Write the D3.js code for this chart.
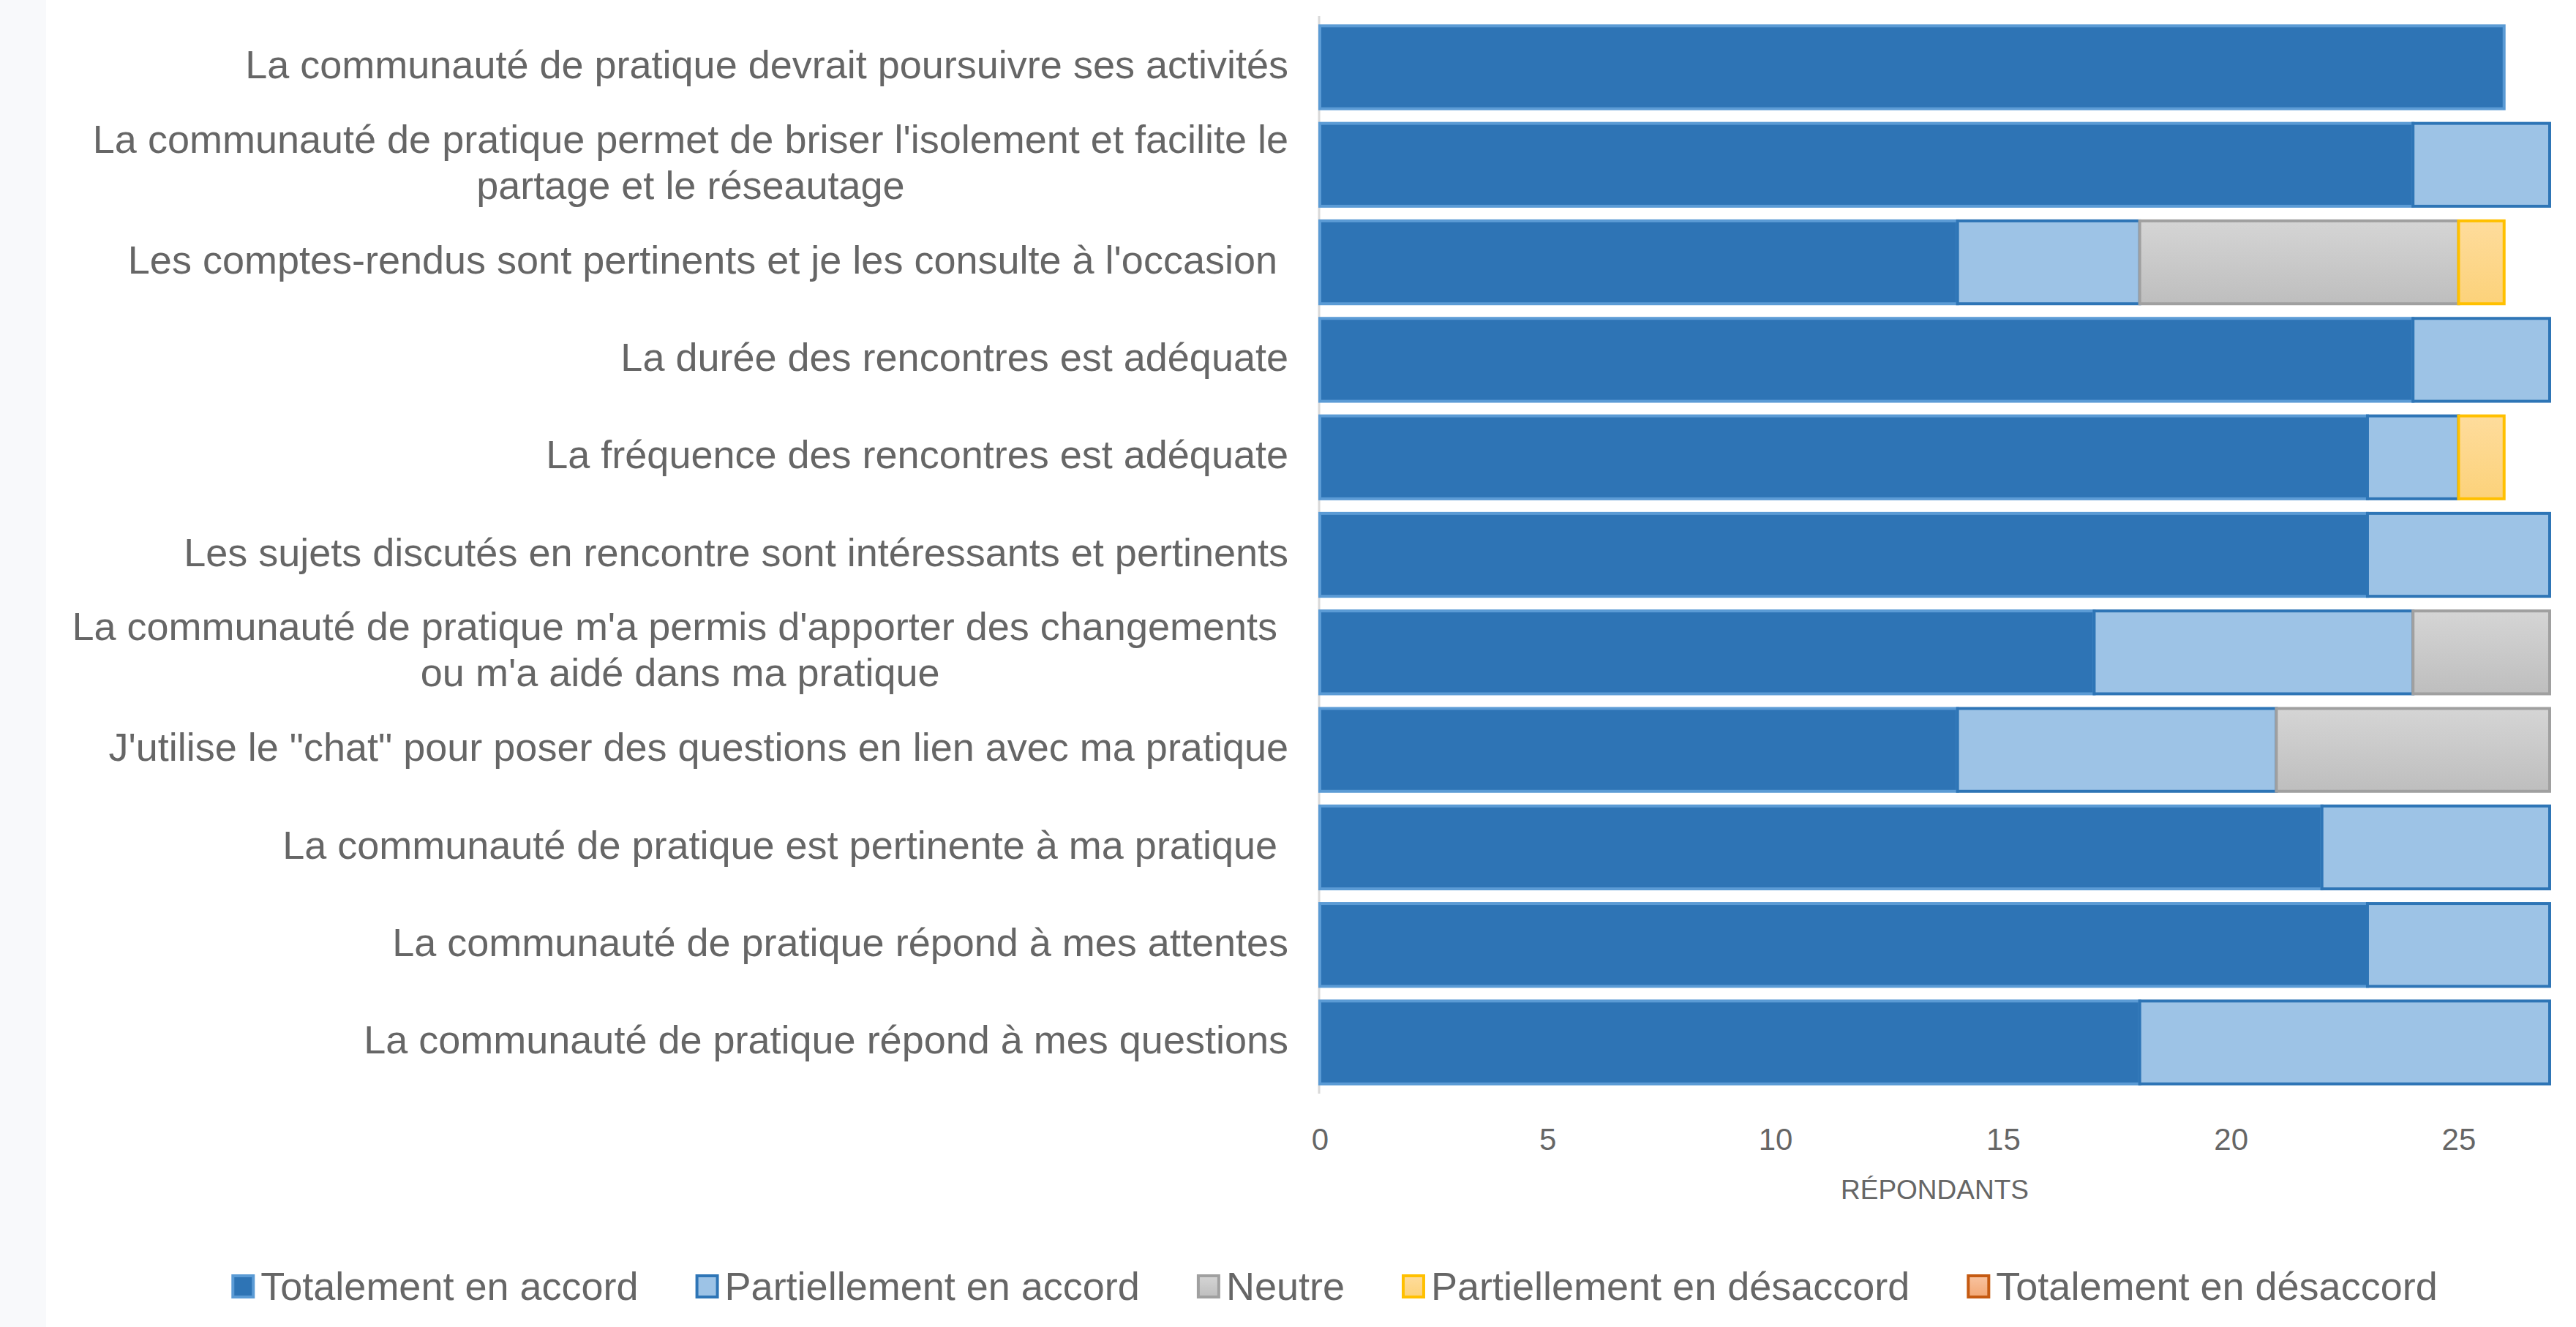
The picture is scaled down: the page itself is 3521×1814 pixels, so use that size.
<!DOCTYPE html>
<html>
<head>
<meta charset="utf-8">
<script src="https://d3js.org/d3.v7.min.js"></script>
<style>
  body { margin: 0; background: #fff; font-family: "Liberation Sans", Arial, sans-serif; }
  text { white-space: pre; }
</style>
</head>
<body>
<script>
// categories (top to bottom), "\n" = line break
var categories = [
  "La communauté de pratique devrait poursuivre ses activités",
  "La communauté de pratique permet de briser l'isolement et facilite le\npartage et le réseautage",
  "Les comptes-rendus sont pertinents et je les consulte à l'occasion ",
  "La durée des rencontres est adéquate",
  "La fréquence des rencontres est adéquate",
  "Les sujets discutés en rencontre sont intéressants et pertinents",
  "La communauté de pratique m'a permis d'apporter des changements \nou m'a aidé dans ma pratique",
  "J'utilise le \"chat\" pour poser des questions en lien avec ma pratique",
  "La communauté de pratique est pertinente à ma pratique ",
  "La communauté de pratique répond à mes attentes",
  "La communauté de pratique répond à mes questions"
];

var seriesNames = ["Totalement en accord", "Partiellement en accord", "Neutre",
                   "Partiellement en désaccord", "Totalement en désaccord"];

var totAccord      = [26, 24, 14, 24, 23, 23, 17, 14, 22, 23, 18];
var partAccord     = [0, 3, 4, 3, 2, 4, 7, 7, 5, 4, 9];
var neutre         = [0, 0, 7, 0, 0, 0, 3, 6, 0, 0, 0];
var partDesaccord  = [0, 0, 1, 0, 1, 0, 0, 0, 0, 0, 0];
var totDesaccord   = [0, 0, 0, 0, 0, 0, 0, 0, 0, 0, 0];

var xTicks = [0, 5, 10, 15, 20, 25];
var xTitle = "RÉPONDANTS";

// styles per series
var fills   = ["#2E74B5", "#9DC3E6", "url(#gNeutre)", "url(#gPartDes)", "url(#gTotDes)"];
var strokes = ["#5B9BD5", "#2E75B6", "#A0A0A0", "#FFC000", "#C55A11"];

var width = 3521, height = 1814;
var textColor = "#666666";

var svg = d3.select("body").append("svg")
  .attr("width", width)
  .attr("height", height);

// gradients
var defs = svg.append("defs");
function grad(id, top, bottom) {
  var g = defs.append("linearGradient").attr("id", id)
    .attr("x1", 0).attr("y1", 0).attr("x2", 0).attr("y2", 1);
  g.append("stop").attr("offset", "0%").attr("stop-color", top);
  g.append("stop").attr("offset", "100%").attr("stop-color", bottom);
}
grad("gNeutre", "#D5D5D5", "#BEBEBE");
grad("gPartDes", "#FEDC9C", "#FCD27A");
grad("gTotDes", "#F8C3A0", "#F2A875");

// left light strip
svg.append("rect").attr("x", 0).attr("y", 0).attr("width", 63).attr("height", height)
  .attr("fill", "#F8F9FB");

// table for the stack
var table = categories.map(function(c, i) {
  var row = { cat: c };
  row[seriesNames[0]] = totAccord[i];
  row[seriesNames[1]] = partAccord[i];
  row[seriesNames[2]] = neutre[i];
  row[seriesNames[3]] = partDesaccord[i];
  row[seriesNames[4]] = totDesaccord[i];
  return row;
});
var stacked = d3.stack().keys(seriesNames)(table);

var x = d3.scaleLinear().domain([0, 27]).range([1804, 3485]);
var y = d3.scaleBand().domain(categories).range([22, 1495])
  .paddingInner(0.15).paddingOuter(0.1);

// axis line
svg.append("line")
  .attr("x1", x(0) - 1).attr("x2", x(0) - 1)
  .attr("y1", 22).attr("y2", 1495)
  .attr("stroke", "#D9D9D9").attr("stroke-width", 3);

// bars
var layers = svg.selectAll("g.layer").data(stacked).enter()
  .append("g").attr("class", "layer")
  .attr("fill", function(d, i) { return fills[i]; })
  .attr("stroke", function(d, i) { return strokes[i]; })
  .attr("stroke-width", 4);

layers.selectAll("rect")
  .data(function(d) { return d.filter(function(p) { return p[1] - p[0] > 0; }); })
  .enter().append("rect")
  .attr("x", function(d) { return x(d[0]); })
  .attr("width", function(d) { return x(d[1]) - x(d[0]); })
  .attr("y", function(d) { return y(d.data.cat); })
  .attr("height", y.bandwidth());

// category labels
var labelRight = 1761;
var lineGap = 63;
categories.forEach(function(c) {
  var lines = c.split("\n");
  var cy = y(c) + y.bandwidth() / 2;
  var g = svg.append("g");
  var texts = lines.map(function(l, k) {
    return g.append("text")
      .attr("y", cy + (k - (lines.length - 1) / 2) * lineGap)
      .attr("dy", "0.28em")
      .attr("font-size", 54)
      .attr("fill", textColor)
      .text(l);
  });
  var maxW = d3.max(texts, function(t) { return t.node().getComputedTextLength(); });
  texts.forEach(function(t) {
    t.attr("text-anchor", "middle").attr("x", labelRight - maxW / 2);
  });
});

// x axis
var xAxis = svg.append("g")
  .attr("transform", "translate(0,1557)")
  .call(d3.axisBottom(x).tickValues(xTicks).tickSize(0).tickPadding(0));
xAxis.select(".domain").remove();
xAxis.selectAll("text")
  .attr("dy", "0.35em")
  .attr("font-size", 42)
  .attr("font-family", "Liberation Sans, Arial, sans-serif")
  .attr("fill", textColor);

svg.append("text")
  .attr("x", (x(0) + x(27)) / 2)
  .attr("y", 1626)
  .attr("dy", "0.35em")
  .attr("text-anchor", "middle")
  .attr("font-size", 37)
  .attr("fill", textColor)
  .text(xTitle);

// legend
var legend = svg.append("g");
var cursor = 0;
var box = 32, boxGap = 8, itemGap = 78;
seriesNames.forEach(function(s, i) {
  var item = legend.append("g").attr("transform", "translate(" + cursor + ",0)");
  item.append("rect")
    .attr("x", 2).attr("y", -14)
    .attr("width", box - 4).attr("height", box - 3)
    .attr("fill", fills[i]).attr("stroke", strokes[i]).attr("stroke-width", 4);
  var t = item.append("text")
    .attr("x", box + boxGap)
    .attr("dy", "0.35em")
    .attr("font-size", 54)
    .attr("fill", textColor)
    .text(s);
  cursor += box + boxGap + t.node().getComputedTextLength() + itemGap;
});
var legendW = cursor - itemGap;
legend.attr("transform", "translate(" + (1824 - legendW / 2) + ",1758)");
</script>
</body>
</html>
